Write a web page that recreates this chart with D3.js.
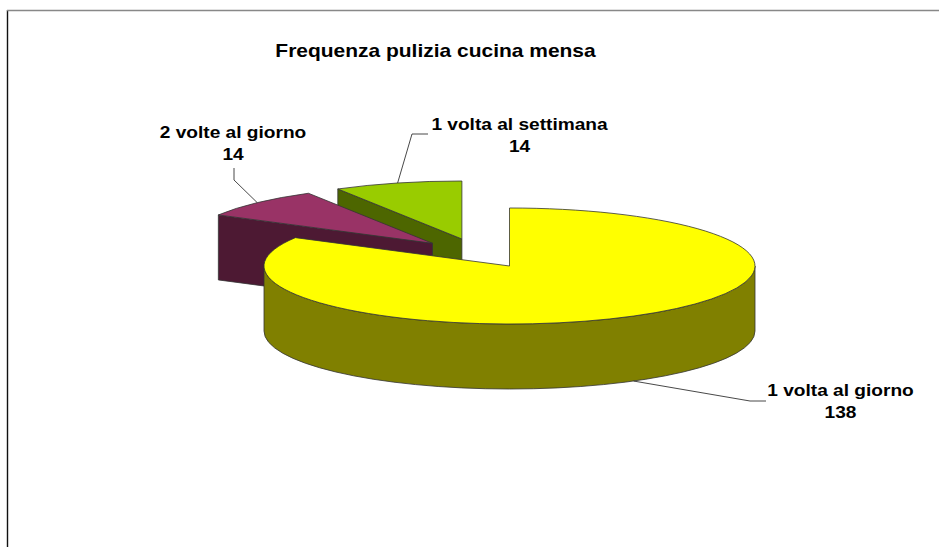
<!DOCTYPE html>
<html>
<head>
<meta charset="utf-8">
<script src="https://cdn.jsdelivr.net/npm/d3@7"></script>
<style>
html,body{margin:0;padding:0;background:#fff}
svg{display:block}
text{font-family:"Liberation Sans",Arial,sans-serif;font-weight:bold;fill:#000;font-size:16.4px;text-anchor:middle}
</style>
</head>
<body>
<svg id="chart" width="939" height="547"></svg>
<script>
const categories = ["1 volta al giorno", "2 volte al giorno", "1 volta al settimana"];
const values = [138, 14, 14];
const topColors = ["#ffff00", "#993366", "#99cc00"];
const wallColors = ["#808000", "#4d1933", "#4d6600"];
const chartTitle = "Frequenza pulizia cucina mensa";

const W = 939, H = 547;
const cx = 509.5, cy = 266, rx = 245.5, ry = 58, depth = 65;
const explode = [[0, 0], [-77, -22.7], [-47.6, -27]];
const labelPos = [[840.5, 395.5], [233, 138], [519.5, 130]];
const leaderElbows = [[[750, 401], [766, 401]], [[234, 180], [234, 168]], [[412, 134], [428, 134]]];
const lineGap = 22;
const textStretch = 1.165;

const svg = d3.select("#chart");

// frame
svg.append("line").attr("x1", 7.5).attr("x2", 7.5).attr("y1", 10).attr("y2", H).attr("stroke", "#111").attr("stroke-width", 1.4);
svg.append("line").attr("x1", 7).attr("x2", W).attr("y1", 10.5).attr("y2", 10.5).attr("stroke", "#888").attr("stroke-width", 1.6);

const put = (x, y, s) => svg.append("text")
  .attr("transform", `translate(${x},${y}) scale(${textStretch},1)`).text(s);

put(435.5, 57, chartTitle).style("font-size", "18px");

const arcs = d3.pie().sort(null).startAngle(0).endAngle(2 * Math.PI)(values);
const arcGen = d3.arc().innerRadius(0).outerRadius(rx);
const pt = (a, i) => [cx + explode[i][0] + rx * Math.sin(a), cy + explode[i][1] - ry * Math.cos(a)];
const stroke = "#333", sw = 0.8;

// back to front: green, purple, yellow
[2, 1, 0].forEach(i => {
  const d = arcs[i];
  const g = svg.append("g");
  const ax = cx + explode[i][0], ay = cy + explode[i][1];
  let wall;
  if (i === 0) {
    // outer wall, right edge round the bottom to the left edge
    wall = `M${ax + rx},${ay}A${rx},${ry} 0 0 1 ${ax - rx},${ay}L${ax - rx},${ay + depth}A${rx},${ry} 0 0 0 ${ax + rx},${ay + depth}Z`;
  } else {
    // cut face along the start edge of the slice
    const c = pt(d.startAngle, i);
    wall = d3.line()([[ax, ay], c, [c[0], c[1] + depth], [ax, ay + depth]]) + "Z";
  }
  g.append("path").attr("d", wall).attr("fill", wallColors[i]).attr("stroke", stroke).attr("stroke-width", sw);
  g.append("path")
    .attr("d", arcGen(d))
    .attr("transform", `translate(${ax},${ay}) scale(1,${ry / rx})`)
    .attr("fill", topColors[i])
    .attr("stroke", stroke)
    .attr("stroke-width", sw)
    .attr("vector-effect", "non-scaling-stroke");
});

// leaders and labels
arcs.forEach((d, i) => {
  const mid = (d.startAngle + d.endAngle) / 2;
  const a = pt(mid, i);
  if (Math.cos(mid) < 0) a[1] += depth;
  svg.append("path").attr("d", d3.line()([a, ...leaderElbows[i]]))
    .attr("fill", "none").attr("stroke", "#333").attr("stroke-width", 0.9);
  put(labelPos[i][0], labelPos[i][1], categories[i]);
  put(labelPos[i][0], labelPos[i][1] + lineGap, values[i]);
});
</script>
</body>
</html>
